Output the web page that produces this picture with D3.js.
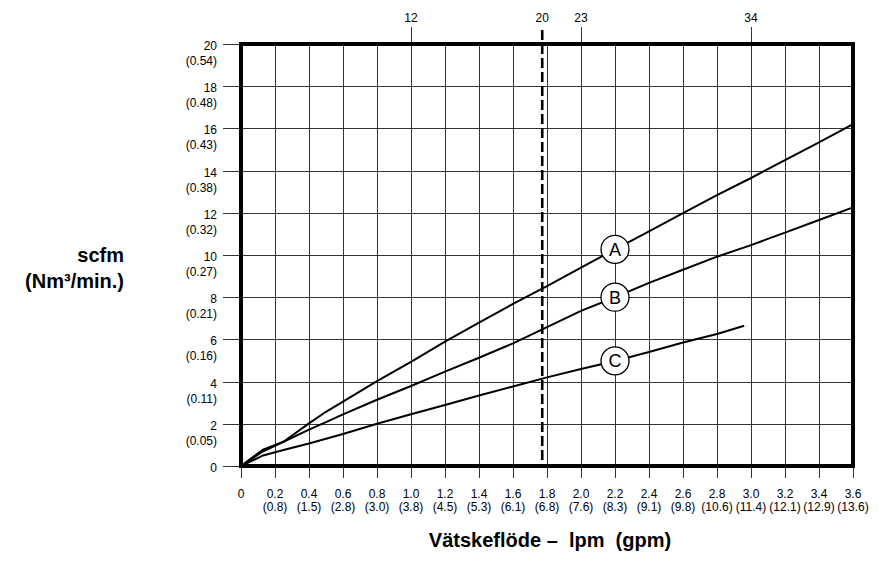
<!DOCTYPE html>
<html>
<head>
<meta charset="utf-8">
<script src="https://cdn.jsdelivr.net/npm/d3@7"></script>
<style>
  body { margin: 0; background: #fff; }
  svg { font-family: "Liberation Sans", Arial, sans-serif; }
  .grid line { stroke: #333; stroke-width: 1; shape-rendering: crispEdges; }
  .curve { fill: none; stroke: #000; stroke-width: 2; }
</style>
</head>
<body>
<svg width="879" height="570"></svg>
<script>
  // flow (lpm) ticks on the bottom, with gpm in brackets
  const flowTicks = [0, 0.2, 0.4, 0.6, 0.8, 1.0, 1.2, 1.4, 1.6, 1.8, 2.0, 2.2, 2.4, 2.6, 2.8, 3.0, 3.2, 3.4, 3.6];
  const gpmLabels = ['', '(0.8)', '(1.5)', '(2.8)', '(3.0)', '(3.8)', '(4.5)', '(5.3)', '(6.1)', '(6.8)', '(7.6)', '(8.3)', '(9.1)', '(9.8)', '(10.6)', '(11.4)', '(12.1)', '(12.9)', '(13.6)'];

  // scfm ticks on the left, with Nm3/min in brackets
  const scfmTicks = [0, 2, 4, 6, 8, 10, 12, 14, 16, 18, 20];
  const nm3Labels = ['', '(0.05)', '(0.11)', '(0.16)', '(0.21)', '(0.27)', '(0.32)', '(0.38)', '(0.43)', '(0.48)', '(0.54)'];

  // extra marks on top
  const topTickFlow = [1.0, 1.772, 2.0, 3.0];
  const topTickLabels = ['12', '20', '23', '34'];
  const dashedFlow = 1.772;

  // curves
  const flowAB = [0, 0.13, 0.25, 0.4, 0.5, 0.6, 0.8, 1.0, 1.2, 1.4, 1.6, 1.8, 2.0, 2.2, 2.4, 2.6, 2.8, 3.0, 3.2, 3.4, 3.6];
  const scfmA = [0, 0.78, 1.15, 2.02, 2.57, 3.05, 4.02, 4.94, 5.89, 6.79, 7.68, 8.52, 9.4, 10.27, 11.12, 11.98, 12.84, 13.65, 14.5, 15.34, 16.2];
  const scfmB = [0, 0.7, 1.15, 1.72, 2.08, 2.45, 3.14, 3.79, 4.47, 5.13, 5.81, 6.58, 7.35, 8.0, 8.68, 9.3, 9.92, 10.47, 11.06, 11.66, 12.26];
  const flowC = [0, 0.13, 0.25, 0.4, 0.6, 0.8, 1.0, 1.2, 1.4, 1.6, 1.8, 2.0, 2.2, 2.4, 2.6, 2.8, 2.96];
  const scfmC = [0, 0.5, 0.76, 1.07, 1.52, 2.0, 2.45, 2.89, 3.34, 3.77, 4.2, 4.6, 4.98, 5.4, 5.85, 6.26, 6.65];

  const curveNames = ['A', 'B', 'C'];
  const labelFlow = 2.2;

  const svg = d3.select('svg');

  const x = d3.scaleLinear().domain([0, 3.6]).range([241, 853]);
  const y = d3.scaleLinear().domain([0, 20]).range([466, 44]);

  // grid
  const grid = svg.append('g').attr('class', 'grid');
  grid.selectAll('line.v')
    .data(flowTicks)
    .enter()
    .append('line')
      .attr('class', 'v')
      .attr('x1', d => Math.round(x(d)) + 0.5)
      .attr('x2', d => Math.round(x(d)) + 0.5)
      .attr('y1', y(20))
      .attr('y2', y(0) + 12);
  grid.selectAll('line.h')
    .data(scfmTicks)
    .enter()
    .append('line')
      .attr('class', 'h')
      .attr('x1', x(0) - 18)
      .attr('x2', x(3.6))
      .attr('y1', d => Math.round(y(d)) + 0.5)
      .attr('y2', d => Math.round(y(d)) + 0.5);

  // top ticks (not for the dashed one)
  grid.selectAll('line.t')
    .data(topTickFlow.filter(d => d !== dashedFlow))
    .enter()
    .append('line')
      .attr('class', 't')
      .attr('x1', d => Math.round(x(d)) + 0.5)
      .attr('x2', d => Math.round(x(d)) + 0.5)
      .attr('y1', 27)
      .attr('y2', y(20));

  svg.append('g')
    .selectAll('text')
    .data(topTickFlow)
    .enter()
    .append('text')
      .attr('x', d => x(d))
      .attr('y', 22)
      .attr('text-anchor', 'middle')
      .attr('font-size', 12)
      .text((d, i) => topTickLabels[i]);

  // frame
  svg.append('rect')
    .attr('x', x(0))
    .attr('y', y(20))
    .attr('width', x(3.6) - x(0))
    .attr('height', y(0) - y(20))
    .attr('fill', 'none')
    .attr('stroke', '#000')
    .attr('stroke-width', 4);

  // dashed line
  svg.append('line')
    .attr('x1', x(dashedFlow))
    .attr('x2', x(dashedFlow))
    .attr('y1', 30)
    .attr('y2', y(0))
    .attr('stroke', '#000')
    .attr('stroke-width', 2.6)
    .attr('stroke-dasharray', '10,4');

  // y labels
  const yLab = svg.append('g').attr('font-size', 12).attr('text-anchor', 'end');
  yLab.selectAll('text.n')
    .data(scfmTicks)
    .enter()
    .append('text')
      .attr('class', 'n')
      .attr('x', 217)
      .attr('y', d => y(d) + 6)
      .text(d => d);
  yLab.selectAll('text.p')
    .data(scfmTicks)
    .enter()
    .append('text')
      .attr('class', 'p')
      .attr('x', 217)
      .attr('y', d => y(d) + 21)
      .text((d, i) => nm3Labels[i]);

  // x labels
  const xLab = svg.append('g').attr('font-size', 12).attr('text-anchor', 'middle');
  xLab.selectAll('text.n')
    .data(flowTicks)
    .enter()
    .append('text')
      .attr('class', 'n')
      .attr('x', d => x(d))
      .attr('y', 498)
      .text(d => d === 0 ? '0' : d3.format('.1f')(d));
  xLab.selectAll('text.p')
    .data(flowTicks)
    .enter()
    .append('text')
      .attr('class', 'p')
      .attr('x', d => x(d))
      .attr('y', 511)
      .text((d, i) => gpmLabels[i]);

  // curves
  const line = d3.line()
    .x(d => x(d[0]))
    .y(d => y(d[1]));

  const series = [
    d3.zip(flowAB, scfmA),
    d3.zip(flowAB, scfmB),
    d3.zip(flowC, scfmC)
  ];

  svg.append('g')
    .selectAll('path')
    .data(series)
    .enter()
    .append('path')
      .attr('class', 'curve')
      .attr('d', line);

  // curve badges
  const badge = svg.append('g')
    .selectAll('g')
    .data(series)
    .enter()
    .append('g')
      .attr('transform', d => {
        const pt = d.find(p => p[0] === labelFlow);
        return `translate(${x(pt[0])},${y(pt[1])})`;
      });
  badge.append('circle')
    .attr('r', 14)
    .attr('fill', '#fff')
    .attr('stroke', '#000')
    .attr('stroke-width', 1.3);
  badge.append('text')
    .attr('text-anchor', 'middle')
    .attr('dy', '0.36em')
    .attr('font-size', 18)
    .text((d, i) => curveNames[i]);

  // axis titles
  svg.append('text')
    .attr('x', 550)
    .attr('y', 547)
    .attr('text-anchor', 'middle')
    .attr('font-size', 20)
    .attr('font-weight', 'bold')
    .attr('xml:space', 'preserve')
    .style('white-space', 'pre')
    .text('Vätskeflöde –  lpm  (gpm)');

  const yTitle = svg.append('text')
    .attr('text-anchor', 'end')
    .attr('font-size', 20)
    .attr('font-weight', 'bold');
  yTitle.append('tspan').attr('x', 124).attr('y', 262).text('scfm');
  yTitle.append('tspan').attr('x', 124).attr('y', 288).text('(Nm³/min.)');
</script>
</body>
</html>
